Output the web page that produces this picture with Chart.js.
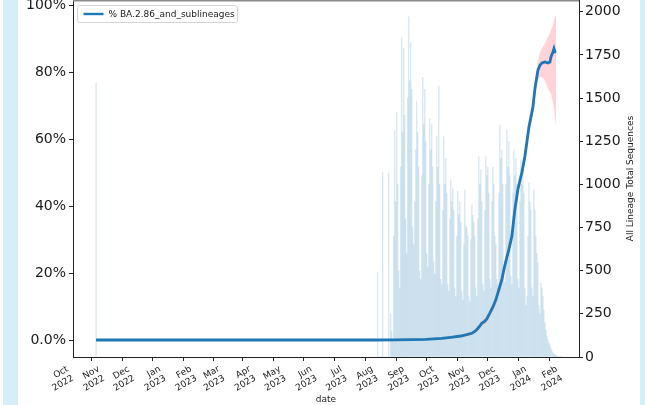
<!DOCTYPE html>
<html>
<head>
<meta charset="utf-8">
<script src="https://cdn.jsdelivr.net/npm/chart.js@4.4.1/dist/chart.umd.min.js"></script>
<style>
  html, body { margin: 0; padding: 0; background: #ffffff; overflow: hidden; width: 645px; height: 405px; }
  .strip { position: absolute; top: 0; height: 405px; background: #d6eef6; }
  #wrap { position: absolute; left: 0; top: -20px; width: 645px; height: 425px; }
</style>
</head>
<body>
<div class="strip" style="left:3px;width:15px"></div>
<div class="strip" style="left:640px;width:5px"></div>
<div id="wrap"><canvas id="chart"></canvas></div>
<script>
// ---- data ----
const monthNames = ['Jan','Feb','Mar','Apr','May','Jun','Jul','Aug','Sep','Oct','Nov','Dec'];

const tickDates = [
  '2022-10-01','2022-11-01','2022-12-01','2023-01-01','2023-02-01','2023-03-01',
  '2023-04-01','2023-05-01','2023-06-01','2023-07-01','2023-08-01','2023-09-01',
  '2023-10-01','2023-11-01','2023-12-01','2024-01-01','2024-02-01'
];

// share of BA.2.86 and sublineages (%), with its confidence band
const pctDates = [
  '2022-10-21','2023-07-29','2023-08-15','2023-09-01','2023-09-15','2023-10-01',
  '2023-10-10','2023-10-20','2023-10-26','2023-10-31','2023-11-04','2023-11-07',
  '2023-11-10','2023-11-13','2023-11-15','2023-11-18','2023-11-21','2023-11-24',
  '2023-11-27','2023-11-30','2023-12-02','2023-12-05','2023-12-07','2023-12-10',
  '2023-12-13','2023-12-16','2023-12-20','2023-12-23','2023-12-27','2023-12-31',
  '2024-01-02','2024-01-05','2024-01-07','2024-01-09','2024-01-12','2024-01-15',
  '2024-01-17','2024-01-18','2024-01-20','2024-01-21','2024-01-22','2024-01-23'
];
const pctValues = [
  0, 0, 0.05, 0.1, 0.2, 0.5,
  0.8, 1.2, 1.6, 2.0, 2.8, 3.8,
  5.0, 5.6, 6.3, 8.0, 9.8, 12.0,
  15.0, 18.0, 21.0, 24.7, 27.0, 31.0,
  39.0, 45.0, 50.0, 54.8, 63.5, 69.5,
  75.0, 80.5, 82.0, 82.7, 83.0, 82.7,
  83.0, 84.5, 86.0, 87.0, 86.0, 85.8
];
const pctLower = [
  0, 0, 0, 0, 0.1, 0.3,
  0.5, 0.8, 1.1, 1.4, 2.1, 3.0,
  4.1, 4.6, 5.3, 6.9, 8.6, 10.7,
  13.6, 16.5, 19.4, 23.0, 25.2, 29.1,
  37.0, 43.0, 47.9, 52.6, 61.2, 67.0,
  72.3, 77.5, 78.5, 78.5, 77.5, 75.0,
  74.0, 73.5, 71.0, 69.0, 66.5, 64.0
];
const pctUpper = [
  0, 0, 0.1, 0.2, 0.3, 0.7,
  1.1, 1.6, 2.1, 2.6, 3.5, 4.6,
  5.9, 6.6, 7.3, 9.1, 11.0, 13.3,
  16.4, 19.5, 22.6, 26.4, 28.8, 32.9,
  41.0, 47.0, 52.1, 57.0, 65.8, 72.0,
  77.7, 83.5, 85.5, 87.0, 88.5, 90.5,
  91.5, 92.5, 94.0, 95.5, 96.5, 97.0
];

// all-lineage sequence totals per day
const firstSeqDate = '2022-10-21';
const firstSeqCount = 1588;
const dailyStart = '2023-07-29';
const dailyCounts = [
  490, 0, 0, 0, 0, 1070, 0,
  0, 0, 0, 0, 1065, 0, 250,
  150, 100, 700, 1310, 900, 1420, 1000,
  500, 400, 1100, 1850, 1300, 1790, 1400,
  800, 600, 1500, 1970, 1600, 1820, 1550,
  750, 650, 900, 1200, 1480, 1300, 1100,
  500, 450, 1050, 1620, 1350, 1550, 1250,
  600, 520, 1000, 1380, 1200, 1350, 1100,
  550, 480, 900, 1280, 1100, 1570, 1000,
  450, 420, 850, 1275, 1000, 1150, 950,
  420, 380, 800, 1026, 900, 980, 850,
  400, 350, 700, 960, 823, 900, 780,
  380, 330, 650, 968, 760, 748, 700,
  350, 320, 680, 880, 820, 780, 700,
  400, 350, 800, 1160, 1000, 1084, 900,
  420, 380, 850, 1160, 1050, 1100, 950,
  450, 400, 900, 1100, 1000, 700, 650,
  450, 420, 950, 1345, 1150, 1200, 1000,
  480, 430, 1000, 1316, 1100, 1250, 1050,
  470, 420, 950, 1200, 1050, 1150, 1000,
  450, 400, 900, 1142, 1000, 1100, 950,
  400, 300, 350, 700, 1009, 900, 850,
  400, 350, 968, 852, 700, 600, 545,
  300, 250, 430, 400, 350, 272, 200,
  156, 120, 100, 81, 70, 50, 35,
  23, 18, 12, 9, 6, 4, 3,
  2, 1
];

const pctTicks = [0, 20, 40, 60, 80, 100];
const countTicks = [0, 250, 500, 750, 1000, 1250, 1500, 1750, 2000];

const seriesLabel = '% BA.2.86_and_sublineages';
const countTitle = 'All Lineage Total Sequences';

// ---- helpers ----
const DAY = 86400000;
const ORIGIN = Date.UTC(2022, 9, 1);
function dayOf(iso) {
  const [y, m, d] = iso.split('-').map(Number);
  return (Date.UTC(y, m - 1, d) - ORIGIN) / DAY;
}
const tickLabelByDay = {};
tickDates.forEach(iso => {
  const [y, m] = iso.split('-').map(Number);
  tickLabelByDay[dayOf(iso)] = [monthNames[m - 1], String(y)];
});

const pts = (vals) => pctDates.map((d, i) => ({ x: dayOf(d), y: vals[i] }));
const startDay = dayOf(dailyStart);
const barPoints = [{ x: dayOf(firstSeqDate), y: firstSeqCount }]
  .concat(dailyCounts.map((v, i) => ({ x: startDay + i, y: v })));

const FONT = 'DejaVu Sans';
const INK = '#1a1a1a';

// legend box, top spine, slanted date labels and the right-hand axis title
const extras = {
  id: 'extras',
  afterDraw(chart) {
    const { ctx, chartArea: a } = chart;
    ctx.save();
    ctx.strokeStyle = '#8a8a8a';
    ctx.lineWidth = 1.5;
    ctx.beginPath();
    ctx.moveTo(a.left, a.top + 0.75);
    ctx.lineTo(a.right, a.top + 0.75);
    ctx.stroke();

    // legend
    const bx = a.left + 4.5, by = a.top + 5.5, bw = 160, bh = 17;
    ctx.fillStyle = 'rgba(255,255,255,0.8)';
    ctx.strokeStyle = '#d4d4d4';
    ctx.lineWidth = 1;
    ctx.beginPath();
    ctx.roundRect(bx, by, bw, bh, 2);
    ctx.fill();
    ctx.stroke();
    ctx.strokeStyle = '#1f77b4';
    ctx.lineWidth = 2.4;
    ctx.beginPath();
    ctx.moveTo(bx + 6, by + bh / 2);
    ctx.lineTo(bx + 26, by + bh / 2);
    ctx.stroke();
    ctx.fillStyle = INK;
    ctx.font = '9px "' + FONT + '"';
    ctx.textAlign = 'left';
    ctx.textBaseline = 'middle';
    ctx.fillText(seriesLabel, bx + 31, by + bh / 2 + 0.5);

    // date tick labels, rotated 30 degrees and anchored at their upper right
    const xs = chart.scales.x;
    const lh = 10.5, rot = Math.PI / 6;
    const topY = a.bottom + 7.5;
    ctx.textAlign = 'right';
    ctx.textBaseline = 'top';
    xs.ticks.forEach(t => {
      const lines = tickLabelByDay[t.value];
      if (!lines) return;
      const w = Math.max(...lines.map(s => ctx.measureText(s).width));
      const h = lines.length * lh;
      const px = xs.getPixelForValue(t.value);
      ctx.save();
      ctx.translate(px - (w * Math.cos(rot) + h * Math.sin(rot)), topY + w * Math.sin(rot));
      ctx.rotate(-rot);
      lines.forEach((s, i) => ctx.fillText(s, w, i * lh));
      ctx.restore();
    });

    // right axis title, reading upwards
    ctx.translate(631, (a.top + a.bottom) / 2);
    ctx.rotate(-Math.PI / 2);
    ctx.textAlign = 'center';
    ctx.textBaseline = 'middle';
    ctx.fillText(countTitle, 0, 0);
    ctx.restore();
  }
};

new Chart(document.getElementById('chart'), {
  type: 'line',
  data: {
    datasets: [
      {
        type: 'line', label: seriesLabel, data: pts(pctValues), yAxisID: 'yL',
        borderColor: '#1f77b4', borderWidth: 2.8, pointRadius: 0, tension: 0,
        fill: false, order: 0
      },
      {
        type: 'line', label: 'upper', data: pts(pctUpper), yAxisID: 'yL',
        borderColor: 'rgba(0,0,0,0)', borderWidth: 0, pointRadius: 0,
        fill: '+1', backgroundColor: 'rgba(255,182,193,0.6)', order: 1
      },
      {
        type: 'line', label: 'lower', data: pts(pctLower), yAxisID: 'yL',
        borderColor: 'rgba(0,0,0,0)', borderWidth: 0, pointRadius: 0,
        fill: false, order: 1
      },
      {
        type: 'bar', label: countTitle, data: barPoints, yAxisID: 'yR',
        backgroundColor: 'rgba(31,119,180,0.17)', borderWidth: 0,
        barThickness: 0.75, grouped: false, order: 2
      }
    ]
  },
  options: {
    responsive: true,
    maintainAspectRatio: false,
    animation: false,
    layout: { padding: { top: 20, left: 0, right: 0, bottom: 0 } },
    plugins: { legend: { display: false }, tooltip: { enabled: false } },
    scales: {
      x: {
        type: 'linear', min: -3, max: 502, offset: false,
        afterBuildTicks: s => { s.ticks = tickDates.map(d => ({ value: dayOf(d) })); },
        afterFit: s => { s.height = 48; },
        grid: { drawOnChartArea: false, drawTicks: true, tickLength: 4, color: '#222' },
        border: { display: true, color: '#222', width: 1 },
        ticks: { display: false, autoSkip: false },
        title: {
          display: true, text: 'date', color: INK,
          font: { family: FONT, size: 9 }, padding: { top: 0, bottom: 0 }
        }
      },
      yL: {
        position: 'left', min: -5.07, max: 101.5,
        afterBuildTicks: s => { s.ticks = pctTicks.map(v => ({ value: v })); },
        afterFit: s => { s.width = 73; },
        grid: { drawOnChartArea: false, drawTicks: true, tickLength: 4, color: '#222' },
        border: { display: true, color: '#222', width: 1 },
        ticks: {
          padding: 3, color: INK, font: { family: FONT, size: 14 },
          callback: v => (v === 0 ? '0.0%' : v + '%')
        }
      },
      yR: {
        position: 'right', min: 0, max: 2068,
        afterBuildTicks: s => { s.ticks = countTicks.map(v => ({ value: v })); },
        afterFit: s => { s.width = 66; },
        grid: { drawOnChartArea: false, drawTicks: true, tickLength: 4, color: '#222' },
        border: { display: true, color: '#222', width: 1 },
        ticks: {
          padding: 2, color: INK, font: { family: FONT, size: 14 },
          callback: v => String(v)
        }
      }
    }
  },
  plugins: [extras]
});
</script>
</body>
</html>
